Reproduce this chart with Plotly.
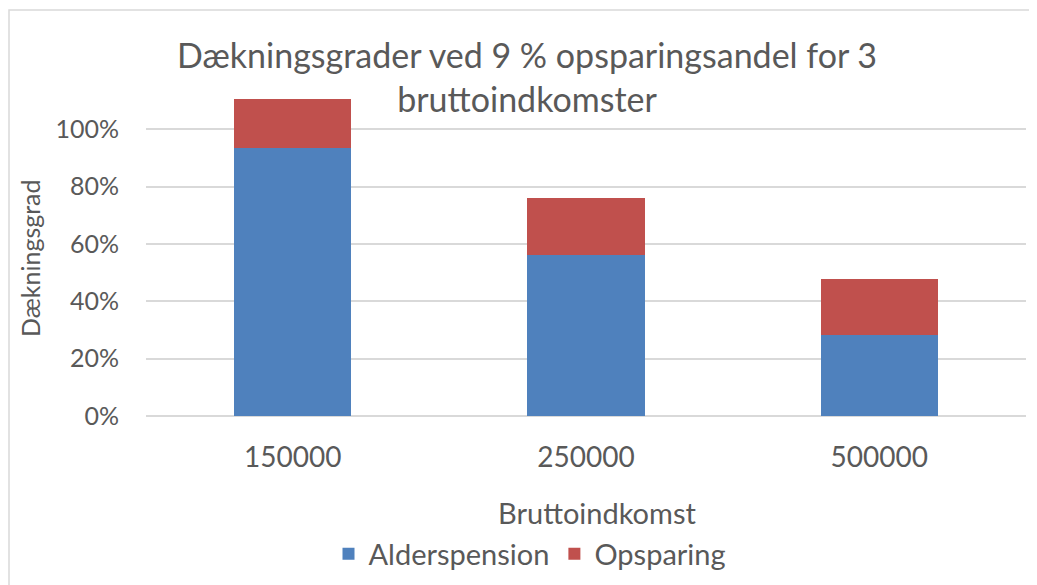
import plotly.graph_objects as go

categories = ["150000", "250000", "500000"]
alderspension = [0.935, 0.562, 0.282]
opsparing = [0.171, 0.197, 0.196]
series_names = ["Alderspension", "Opsparing"]
colors = ["#4F81BD", "#C0504D"]

title_text = "Dækningsgrader ved 9 % opsparingsandel for 3<br>bruttoindkomster"
x_title = "Bruttoindkomst"
y_title = "Dækningsgrad"

FONT = "Lato"
TXT = "#595959"

fig = go.Figure()
for name, vals, col in zip(series_names, [alderspension, opsparing], colors):
    fig.add_trace(go.Bar(x=categories, y=vals, name=name, marker=dict(color=col, line=dict(width=0))))

OFF = 8  # page body margin
W, H = 1037 - OFF, 585 - OFF
L = 146 - OFF
R = W - (1026 - OFF)
T = 95 - OFF
B = H - (416 - OFF)
pw, ph = W - L - R, H - T - B

def px(xp):
    return (xp - OFF - L) / pw

def py(yp):
    return (H - B - (yp - OFF)) / ph

fig.update_layout(
    width=W, height=H,
    barmode="stack", bargap=0.6,
    margin=dict(l=L, r=R, t=T, b=B, autoexpand=False),
    paper_bgcolor="white", plot_bgcolor="white",
    font=dict(family=FONT, color=TXT),
    showlegend=True,
    legend=dict(orientation="h", x=px(530), xanchor="center", y=py(554), yanchor="middle",
                font=dict(size=29, family=FONT, color=TXT), traceorder="normal",
                itemsizing="constant"),
    xaxis=dict(showgrid=False, showline=False, ticks="", ticklabelstandoff=22,
               tickfont=dict(size=28, family=FONT, color=TXT)),
    yaxis=dict(range=[0, 1.12], dtick=0.2, tickformat=".0%", showgrid=True,
               gridcolor="#D9D9D9", gridwidth=1.5, zeroline=True, zerolinecolor="#D9D9D9",
               zerolinewidth=1.5, showline=False, ticks="", ticklabelstandoff=26,
               tickfont=dict(size=25, family=FONT, color=TXT)),
    annotations=[
        dict(text=title_text, xref="paper", yref="paper", x=px(527), y=py(76),
             xanchor="center", yanchor="middle", showarrow=False,
             font=dict(size=34, family=FONT, color=TXT)),
        dict(text=x_title, xref="paper", yref="paper", x=px(597), y=py(512),
             xanchor="center", yanchor="middle", showarrow=False,
             font=dict(size=29, family=FONT, color=TXT)),
        dict(text=y_title, xref="paper", yref="paper", x=px(30), y=py(258),
             xanchor="center", yanchor="middle", showarrow=False, textangle=-90,
             font=dict(size=25, family=FONT, color=TXT)),
    ],
    shapes=[
        dict(type="rect", xref="paper", yref="paper", x0=px(9), x1=px(1045), y0=py(10), y1=py(600),
             line=dict(color="#D9D9D9", width=1.5), fillcolor="rgba(0,0,0,0)", layer="below"),
    ],
)

fig.write_html("out.html")
